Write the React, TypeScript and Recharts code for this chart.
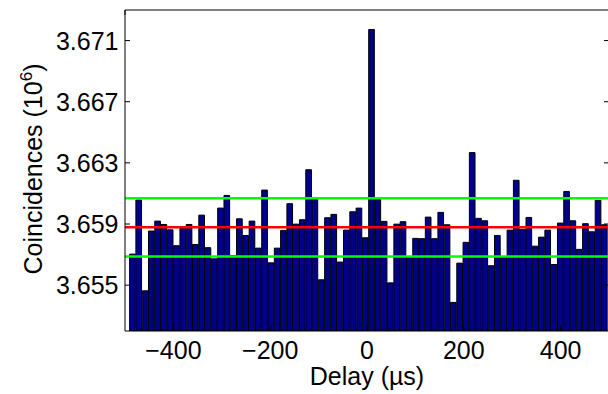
import React from 'react'
import { BarChart, Bar, XAxis, YAxis, ReferenceLine } from 'recharts'

// delay bins (µs) and coincidence counts (10^6)
const delays = [
  -484, -471, -458, -445, -432, -419, -406, -393, -380, -367,
  -354, -341, -328, -315, -302, -289, -276, -263, -250, -237,
  -224, -211, -198, -185, -172, -159, -146, -133, -120, -107,
  -94, -81, -68, -55, -42, -29, -16, -3, 10, 23,
  36, 49, 62, 75, 88, 101, 114, 127, 140, 153,
  166, 179, 192, 205, 218, 231, 244, 257, 270, 283,
  296, 309, 322, 335, 348, 361, 374, 387, 400, 413,
  426, 439, 452, 465, 478, 491,
]

const counts = [
  3.65703, 3.66057, 3.65463, 3.65854, 3.65919, 3.65897, 3.65862, 3.65758, 3.65875, 3.65897,
  3.65766, 3.65958, 3.65745, 3.65672, 3.66004, 3.66087, 3.65694, 3.65934, 3.65825, 3.65919,
  3.65742, 3.66122, 3.65646, 3.65742, 3.65858, 3.66033, 3.65899, 3.65928, 3.66255, 3.66061,
  3.65535, 3.65941, 3.65963, 3.65651, 3.6586, 3.6598, 3.66004, 3.6581, 3.67172, 3.66061,
  3.65917, 3.65515, 3.65899, 3.65915, 3.65685, 3.65806, 3.65804, 3.65945, 3.65804, 3.65976,
  3.65895, 3.65387, 3.65644, 3.6578, 3.66367, 3.65937, 3.65921, 3.65627, 3.65825, 3.65685,
  3.6586, 3.66186, 3.65865, 3.65943, 3.65755, 3.65814, 3.6586, 3.65635, 3.65906, 3.66113,
  3.65921, 3.65734, 3.65902, 3.65849, 3.66055, 3.65895,
]

const meanCount = 3.65878
const sigma = 0.00191

const xTicks = [-400, -200, 0, 200, 400]
const yTicks = [3.655, 3.659, 3.663, 3.667, 3.671]

const data = delays.map((d, i) => ({ delay: d, count: counts[i] }))

const FONT = '"Liberation Sans", Arial, Helvetica, sans-serif'
const PLOT_W = 484
const BIN = 13

const XTick = ({ x, y, payload }: any) => (
  <text x={x} y={y + 33} textAnchor="middle" fontSize={25} fontFamily={FONT} fill="#000">
    {payload.value < 0 ? '\u2212' + Math.abs(payload.value) : payload.value}
  </text>
)

const YTick = ({ x, y, payload }: any) => (
  <text x={x - 11.5} y={y + 9} textAnchor="end" fontSize={25} fontFamily={FONT} fill="#000">
    {payload.value.toFixed(3)}
  </text>
)

// top / right box sides: tick marks only, no labels
const NoLabel = () => <g />

const YLabel = () => (
  <text
    x={42}
    y={169}
    transform="rotate(-90, 42, 169)"
    textAnchor="middle"
    fontSize={25}
    fontFamily={FONT}
    fill="#000"
  >
    Coincidences (10
    <tspan dy={-10} fontSize={17}>6</tspan>
    <tspan dy={10}>)</tspan>
  </text>
)

const XLabel = () => (
  <text x={367} y={385} textAnchor="middle" fontSize={25} fontFamily={FONT} fill="#000">
    Delay (µs)
  </text>
)

export default function App() {
  return (
    <div style={{ position: 'absolute', left: 0, top: 0, width: 608, height: 394, overflow: 'hidden', background: '#fff' }}>
      <BarChart
        width={611}
        height={394}
        data={data}
        margin={{ top: 9, right: 1, left: 8, bottom: 0 }}
        barCategoryGap={0}
      >
        <XAxis
          xAxisId="b"
          dataKey="delay"
          type="number"
          domain={[-500, 500]}
          ticks={xTicks}
          allowDataOverflow
          height={63}
          tickSize={-5}
          tickMargin={0}
          stroke="#000"
          tick={<XTick />}
          label={<XLabel />}
        />
        <XAxis
          xAxisId="t"
          orientation="top"
          type="number"
          domain={[-500, 500]}
          ticks={xTicks}
          allowDataOverflow
          height={1}
          tickSize={-5}
          tickMargin={0}
          stroke="#000"
          tick={<NoLabel />}
        />
        <YAxis
          yAxisId="l"
          type="number"
          domain={[3.652, 3.673]}
          ticks={yTicks}
          allowDataOverflow
          width={117}
          tickSize={-5}
          tickMargin={0}
          stroke="#000"
          tick={<YTick />}
          label={<YLabel />}
        />
        <YAxis
          yAxisId="r"
          orientation="right"
          type="number"
          domain={[3.652, 3.673]}
          ticks={yTicks}
          allowDataOverflow
          width={1}
          tickSize={-5}
          tickMargin={0}
          stroke="#000"
          tick={<NoLabel />}
        />
        <Bar
          xAxisId="b"
          yAxisId="l"
          dataKey="count"
          fill="#00008b"
          stroke="#000"
          strokeWidth={1}
          barSize={(PLOT_W * BIN) / 1000}
          isAnimationActive={false}
        />
        <ReferenceLine xAxisId="b" yAxisId="l" y={meanCount + sigma} stroke="#00ff00" strokeWidth={2.5} />
        <ReferenceLine xAxisId="b" yAxisId="l" y={meanCount - sigma} stroke="#00ff00" strokeWidth={2.5} />
        <ReferenceLine xAxisId="b" yAxisId="l" y={meanCount} stroke="#ff0000" strokeWidth={2.5} />
      </BarChart>
    </div>
  )
}
